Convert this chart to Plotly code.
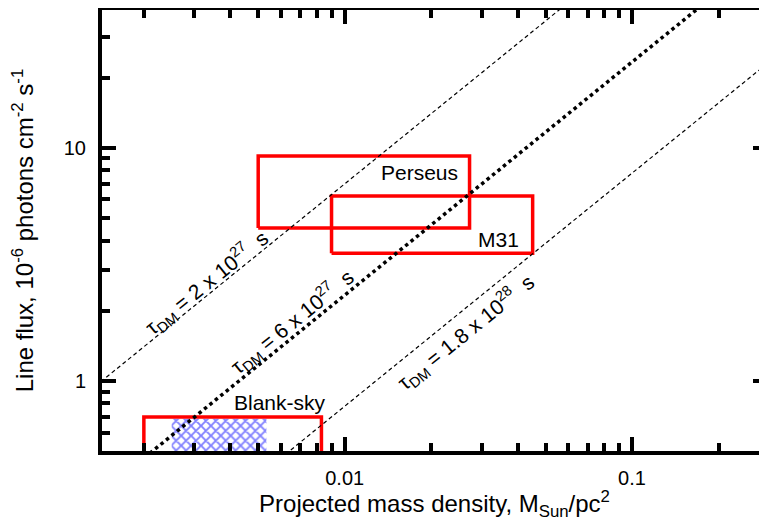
import numpy as np
import plotly.graph_objects as go

# tau_DM reference lines (projected mass density, line flux) endpoints
tau_labels = ["2 x 10<sup>27</sup>", "6 x 10<sup>27</sup>", "1.8 x 10<sup>28</sup>"]
line1_x = [0.001, 0.1]
line1_y = [0.70, 70.0]
line2_x = [0.001, 0.3]
line2_y = [0.233, 70.0]
line3_x = [0.005, 0.5]
line3_y = [0.389, 38.9]

# observed objects: mass density range and flux range
objects = ["Perseus", "M31", "Blank-sky"]
obj_xmin = [0.0050, 0.0090, 0.0020]
obj_xmax = [0.0272, 0.0451, 0.0083]
obj_ymin = [4.53, 3.53, 0.40]
obj_ymax = [9.21, 6.21, 0.70]
label_x = [0.01825, 0.0343, 0.00594]
label_y = [7.82, 4.06, 0.805]

# hatched blank-sky region
hatch_x = [0.0025, 0.00534]
hatch_y = [0.40, 0.687]

fig = go.Figure()

fig.add_trace(go.Scatter(
    x=[hatch_x[0], hatch_x[1], hatch_x[1], hatch_x[0], hatch_x[0]],
    y=[hatch_y[0], hatch_y[0], hatch_y[1], hatch_y[1], hatch_y[0]],
    mode="lines", fill="toself", line=dict(width=0, color="rgba(0,0,0,0)"),
    fillcolor="white",
    fillpattern=dict(shape="x", fgcolor="#0000ff", bgcolor="white", size=7, solidity=0.45),
    hoverinfo="skip"))

for i in range(len(objects)):
    fig.add_trace(go.Scatter(
        x=[obj_xmin[i], obj_xmax[i], obj_xmax[i], obj_xmin[i], obj_xmin[i]],
        y=[obj_ymin[i], obj_ymin[i], obj_ymax[i], obj_ymax[i], obj_ymin[i]],
        mode="lines", line=dict(color="#ff0000", width=3.5), hoverinfo="skip"))

fig.add_trace(go.Scatter(x=line1_x, y=line1_y, mode="lines",
                         line=dict(color="black", width=1.2, dash="4px,3px")))
fig.add_trace(go.Scatter(x=line2_x, y=line2_y, mode="lines",
                         line=dict(color="black", width=3.5, dash="dot")))
fig.add_trace(go.Scatter(x=line3_x, y=line3_y, mode="lines",
                         line=dict(color="black", width=1.2, dash="4px,3px")))

font = dict(family="Liberation Sans, Arial, sans-serif", size=20, color="black")
font_ann = dict(font, size=21)

# object labels
for name, lx, ly in zip(objects, label_x, label_y):
    fig.add_annotation(x=np.log10(lx), y=np.log10(ly), text=name, showarrow=False,
                       xanchor="center", font=font_ann)

# tau labels along the lines
tau_pos = [(-2.48, 0.424), (-2.181, 0.253), (-1.579, 0.206)]
for lab, (px, py) in zip(tau_labels, tau_pos):
    fig.add_annotation(x=px, y=py, text="\u03c4<sub>DM</sub> = " + lab + "  s",
                       showarrow=False, textangle=-39, font=font_ann)

x_minor = [v * m for v in [0.001, 0.01, 0.1] for m in range(2, 10)]
y_minor = [v * m for v in [0.1, 1, 10] for m in range(2, 10)]

# page body has an 8px margin, so the figure is sized to fit the window
fig.update_layout(
    width=759, height=513,
    margin=dict(l=94, r=0, t=2, b=70, autoexpand=False),
    plot_bgcolor="white", paper_bgcolor="white",
    showlegend=False,
    font=font,
    xaxis=dict(
        type="log", range=[np.log10(0.00143), np.log10(0.295)],
        tickvals=[0.01, 0.1], ticktext=["0.01", "0.1"],
        ticks="inside", ticklen=14, tickwidth=3.5, tickcolor="black", ticklabelstandoff=6,
        minor=dict(tickvals=x_minor, ticks="inside", ticklen=8, tickwidth=3.5, tickcolor="black",
                   showgrid=False),
        showline=True, linewidth=4, linecolor="black", mirror="allticks",
        showgrid=False, zeroline=False, automargin=False,
        title=dict(text="Projected mass density, M<sub>Sun</sub>/pc<sup>2</sup>", standoff=10),
    ),
    yaxis=dict(
        type="log", range=[np.log10(0.5), np.log10(39)],
        tickvals=[1, 10], ticktext=["1", "10"],
        ticks="inside", ticklen=14, tickwidth=3.5, tickcolor="black", ticklabelstandoff=8,
        minor=dict(tickvals=y_minor, ticks="inside", ticklen=8, tickwidth=3.5, tickcolor="black",
                   showgrid=False),
        showline=True, linewidth=4, linecolor="black", mirror="allticks",
        showgrid=False, zeroline=False, automargin=False,
        title=dict(text="Line flux, 10<sup>-6</sup> photons cm<sup>-2</sup> s<sup>-1</sup>", standoff=24),
    ),
)

fig.write_html("out.html")
